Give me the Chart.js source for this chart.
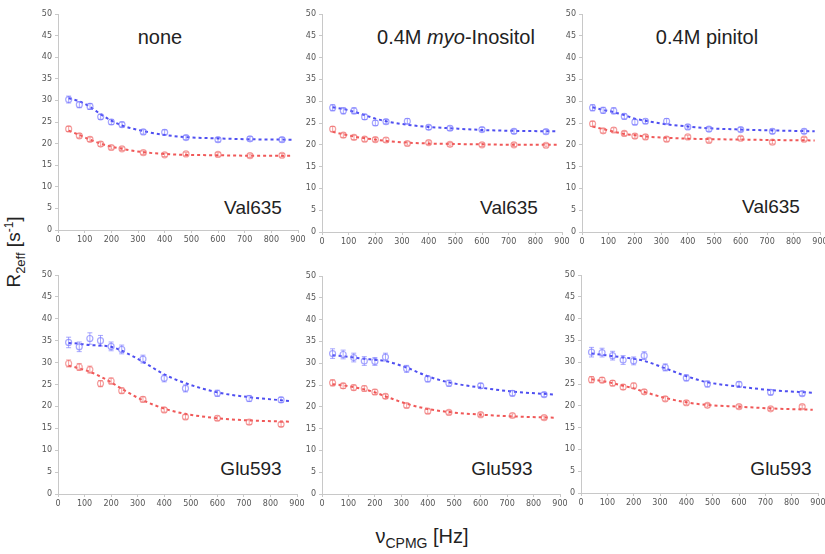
<!DOCTYPE html>
<html><head><meta charset="utf-8">
<script src="https://cdn.jsdelivr.net/npm/chart.js@4.4.1/dist/chart.umd.min.js"></script>
<style>
body{margin:0;background:#fff;}
#wrap{position:relative;width:825px;height:554px;overflow:hidden;font-family:"Liberation Sans",Arial,sans-serif;background:#fff;}
canvas{position:absolute;}
.t{position:absolute;color:#222;white-space:nowrap;transform:translate(-50%,-50%);line-height:1;}
</style></head><body>
<div id="wrap">
<div class="t" style="left:160px;top:37px;font-size:20px;">none</div>
<div class="t" style="left:456px;top:37px;font-size:20px;">0.4M <i>myo</i>-Inositol</div>
<div class="t" style="left:707px;top:37px;font-size:20px;">0.4M pinitol</div>
<div class="t" style="left:253px;top:207px;font-size:19px;">Val635</div>
<div class="t" style="left:509px;top:207px;font-size:19px;">Val635</div>
<div class="t" style="left:771px;top:206px;font-size:19px;">Val635</div>
<div class="t" style="left:251px;top:468px;font-size:19px;">Glu593</div>
<div class="t" style="left:502px;top:468px;font-size:19px;">Glu593</div>
<div class="t" style="left:781px;top:468px;font-size:19px;">Glu593</div>
<div class="t" style="left:15px;top:252px;font-size:19px;transform:translate(-50%,-50%) rotate(-90deg);">R<sub style="font-size:13px;">2eff</sub> [s<sup style="font-size:12px;">-1</sup>]</div>
<div class="t" style="left:422px;top:538px;font-size:20px;">ν<sub style="font-size:14px;">CPMG</sub> [Hz]</div>
</div>
<script>
// ---- data ----
const nuCPMG = [40, 80, 120, 160, 200, 240, 320, 400, 480, 600, 720, 840];
const fitNu  = [40, 80, 120, 160, 200, 240, 320, 400, 480, 600, 720, 880];
const xTicks = [0, 100, 200, 300, 400, 500, 600, 700, 800, 900];
const yTicks = [0, 5, 10, 15, 20, 25, 30, 35, 40, 45, 50];

// Val635, none
const val635None_blue    = [30.2, 29.0, 28.6, 26.2, 25.0, 24.4, 22.7, 22.6, 21.4, 20.9, 21.1, 20.9];
const val635None_blueErr = [0.8, 0.7, 0.7, 0.6, 0.6, 0.6, 0.5, 0.6, 0.5, 0.5, 0.5, 0.5];
const val635None_red     = [23.4, 21.8, 21.0, 19.9, 19.1, 18.8, 17.9, 17.4, 17.6, 17.5, 17.2, 17.3];
const val635None_redErr  = [0.6, 0.5, 0.5, 0.5, 0.4, 0.4, 0.4, 0.4, 0.4, 0.4, 0.4, 0.4];
const val635None_blueFit = [30.5, 29.8, 28.5, 26.8, 25.3, 24.2, 22.9, 22.0, 21.5, 21.2, 21.0, 20.9];
const val635None_redFit  = [23.0, 22.0, 20.9, 20.0, 19.3, 18.8, 18.0, 17.6, 17.4, 17.3, 17.2, 17.2];

// Val635, myo-Inositol
const val635Myo_blue    = [28.5, 27.8, 27.8, 26.4, 25.0, 25.3, 25.4, 24.0, 23.8, 23.5, 23.1, 23.0];
const val635Myo_blueErr = [0.7, 0.7, 0.7, 0.6, 0.6, 0.5, 0.6, 0.5, 0.5, 0.5, 0.5, 0.5];
const val635Myo_red     = [23.6, 22.2, 21.7, 21.3, 21.2, 21.1, 20.3, 20.5, 20.1, 20.0, 20.0, 19.9];
const val635Myo_redErr  = [0.6, 0.5, 0.5, 0.5, 0.5, 0.5, 0.4, 0.4, 0.4, 0.4, 0.4, 0.4];
const val635Myo_blueFit = [28.6, 28.2, 27.6, 26.8, 26.0, 25.4, 24.6, 24.1, 23.8, 23.4, 23.2, 23.1];
const val635Myo_redFit  = [23.0, 22.4, 21.9, 21.5, 21.2, 20.9, 20.5, 20.3, 20.2, 20.1, 20.0, 20.0];

// Val635, pinitol
const val635Pin_blue    = [28.5, 27.9, 27.8, 26.5, 25.2, 25.4, 25.4, 24.1, 23.6, 23.5, 23.1, 23.1];
const val635Pin_blueErr = [0.7, 0.7, 0.7, 0.6, 0.6, 0.5, 0.6, 0.5, 0.5, 0.5, 0.5, 0.5];
const val635Pin_red     = [24.8, 23.2, 23.4, 22.6, 22.0, 21.8, 21.3, 21.8, 21.0, 21.5, 20.6, 21.3];
const val635Pin_redErr  = [0.6, 0.5, 0.5, 0.5, 0.5, 0.5, 0.5, 0.4, 0.4, 0.4, 0.4, 0.4];
const val635Pin_blueFit = [28.6, 28.0, 27.5, 26.8, 26.0, 25.5, 24.7, 24.2, 23.8, 23.5, 23.3, 23.1];
const val635Pin_redFit  = [24.2, 23.6, 23.0, 22.5, 22.2, 21.9, 21.6, 21.4, 21.3, 21.2, 21.1, 21.0];

// Glu593, none
const glu593None_blue    = [34.6, 33.6, 35.5, 35.0, 33.7, 33.0, 30.8, 26.4, 24.1, 23.0, 21.8, 21.5];
const glu593None_blueErr = [1.2, 1.1, 1.3, 1.2, 1.0, 1.0, 0.9, 0.8, 0.8, 0.7, 0.7, 0.6];
const glu593None_red     = [29.8, 29.0, 28.4, 25.2, 25.8, 23.6, 21.6, 19.2, 17.6, 17.3, 16.4, 15.9];
const glu593None_redErr  = [0.8, 0.8, 0.8, 0.7, 0.7, 0.6, 0.6, 0.5, 0.5, 0.5, 0.5, 0.5];
const glu593None_blueFit = [34.5, 34.3, 34.0, 33.9, 33.6, 32.7, 30.2, 27.3, 25.3, 23.2, 22.1, 21.2];
const glu593None_redFit  = [29.3, 28.7, 27.9, 26.8, 25.5, 24.0, 21.4, 19.5, 18.3, 17.3, 16.8, 16.5];

// Glu593, myo-Inositol
const glu593Myo_blue    = [32.2, 32.0, 31.3, 30.5, 30.4, 31.4, 28.7, 26.4, 25.4, 24.8, 23.1, 22.8];
const glu593Myo_blueErr = [1.1, 1.0, 1.0, 1.0, 0.9, 0.9, 0.8, 0.7, 0.7, 0.6, 0.6, 0.5];
const glu593Myo_red     = [25.5, 24.8, 24.4, 24.2, 23.4, 22.4, 20.3, 19.0, 18.7, 18.2, 18.0, 17.5];
const glu593Myo_redErr  = [0.7, 0.6, 0.6, 0.6, 0.6, 0.5, 0.5, 0.5, 0.4, 0.4, 0.4, 0.4];
const glu593Myo_blueFit = [31.8, 31.6, 31.3, 31.0, 30.8, 30.5, 29.0, 27.0, 25.6, 24.4, 23.5, 22.8];
const glu593Myo_redFit  = [25.2, 24.9, 24.5, 24.0, 23.3, 22.4, 20.7, 19.5, 18.8, 18.2, 17.8, 17.5];

// Glu593, pinitol
const glu593Pin_blue    = [32.3, 32.2, 31.5, 30.5, 30.3, 31.5, 28.8, 26.4, 25.0, 24.9, 23.1, 22.8];
const glu593Pin_blueErr = [1.1, 1.0, 1.0, 1.0, 0.9, 0.9, 0.8, 0.7, 0.7, 0.6, 0.6, 0.5];
const glu593Pin_red     = [26.0, 25.9, 25.2, 24.3, 24.6, 23.2, 21.6, 20.7, 20.1, 19.8, 19.3, 19.8];
const glu593Pin_redErr  = [0.7, 0.6, 0.6, 0.6, 0.6, 0.5, 0.5, 0.5, 0.4, 0.4, 0.4, 0.4];
const glu593Pin_blueFit = [32.0, 31.7, 31.4, 31.1, 30.8, 30.3, 28.6, 26.8, 25.4, 24.4, 23.6, 23.0];
const glu593Pin_redFit  = [26.1, 25.7, 25.2, 24.6, 24.0, 23.2, 21.8, 20.8, 20.2, 19.8, 19.4, 19.1];

// ---- panels (data refs) ----
const panelData = [
  [val635None_blue, val635None_blueErr, val635None_red, val635None_redErr, val635None_blueFit, val635None_redFit],
  [val635Myo_blue, val635Myo_blueErr, val635Myo_red, val635Myo_redErr, val635Myo_blueFit, val635Myo_redFit],
  [val635Pin_blue, val635Pin_blueErr, val635Pin_red, val635Pin_redErr, val635Pin_blueFit, val635Pin_redFit],
  [glu593None_blue, glu593None_blueErr, glu593None_red, glu593None_redErr, glu593None_blueFit, glu593None_redFit],
  [glu593Myo_blue, glu593Myo_blueErr, glu593Myo_red, glu593Myo_redErr, glu593Myo_blueFit, glu593Myo_redFit],
  [glu593Pin_blue, glu593Pin_blueErr, glu593Pin_red, glu593Pin_redErr, glu593Pin_blueFit, glu593Pin_redFit]
];
// chart-area boxes (layout only)
const panelBoxes = [
  {l: 58, r: 298, t: 14, b: 230},
  {l: 322, r: 562, t: 14, b: 232},
  {l: 582, r: 820, t: 14, b: 232},
  {l: 58, r: 297, t: 275, b: 494},
  {l: 322, r: 560, t: 276, b: 494},
  {l: 581, r: 818, t: 275, b: 493}
];

const BLUE_PT = 'rgba(120,120,255,0.65)';
const RED_PT = 'rgba(240,110,110,0.65)';
const BLUE_LINE = 'rgba(60,60,240,0.9)';
const RED_LINE = 'rgba(238,70,70,0.9)';

const errorBars = {
  id: 'errorBars',
  beforeDatasetsDraw(chart) {
    const ctx = chart.ctx, xs = chart.scales.x, ys = chart.scales.y;
    chart.data.datasets.forEach(ds => {
      if (!ds.errors) return;
      ctx.save();
      ctx.strokeStyle = ds.borderColor;
      ctx.lineWidth = 1;
      ds.data.forEach((p, i) => {
        const e = ds.errors[i];
        const x = xs.getPixelForValue(p.x);
        const y1 = ys.getPixelForValue(p.y - e), y2 = ys.getPixelForValue(p.y + e);
        ctx.beginPath();
        ctx.moveTo(x, y1); ctx.lineTo(x, y2);
        ctx.moveTo(x - 2.5, y1); ctx.lineTo(x + 2.5, y1);
        ctx.moveTo(x - 2.5, y2); ctx.lineTo(x + 2.5, y2);
        ctx.stroke();
      });
      ctx.restore();
    });
  }
};

const YW = 30, XH = 20, PT = 10, PR = 14;
const wrap = document.getElementById('wrap');
panelData.forEach((pd, k) => {
  const box = panelBoxes[k];
  const cv = document.createElement('canvas');
  const w = (box.r - box.l) + YW + PR, h = (box.b - box.t) + PT + XH;
  cv.width = w; cv.height = h;
  cv.style.left = (box.l - YW) + 'px';
  cv.style.top = (box.t - PT) + 'px';
  cv.style.width = w + 'px'; cv.style.height = h + 'px';
  wrap.appendChild(cv);
  const [bl, ble, rd, rde, bf, rf] = pd;
  const pts = arr => nuCPMG.map((x, i) => ({x, y: arr[i]}));
  const fit = arr => fitNu.map((x, i) => ({x, y: arr[i]}));
  new Chart(cv, {
    type: 'scatter',
    data: {
      datasets: [
        {label: 'fit blue', data: fit(bf), showLine: true, borderColor: BLUE_LINE, borderWidth: 2, borderDash: [3, 3], pointRadius: 0, cubicInterpolationMode: 'monotone', order: 2},
        {label: 'fit red', data: fit(rf), showLine: true, borderColor: RED_LINE, borderWidth: 2, borderDash: [3, 3], pointRadius: 0, cubicInterpolationMode: 'monotone', order: 2},
        {label: 'blue', data: pts(bl), errors: ble, borderColor: BLUE_PT, backgroundColor: 'rgba(0,0,0,0)', pointRadius: 3, borderWidth: 1.2, order: 1},
        {label: 'red', data: pts(rd), errors: rde, borderColor: RED_PT, backgroundColor: 'rgba(0,0,0,0)', pointRadius: 3, borderWidth: 1.2, order: 1}
      ]
    },
    options: {
      responsive: false, animation: false, devicePixelRatio: 1,
      layout: {padding: {top: PT, right: PR, left: 0, bottom: 0}},
      plugins: {legend: {display: false}, tooltip: {enabled: false}},
      scales: {
        x: {
          type: 'linear', min: 0, max: 900,
          afterFit: s => { s.height = XH; },
          afterBuildTicks: s => { s.ticks = xTicks.map(v => ({value: v})); },
          grid: {drawOnChartArea: false, tickLength: 3, color: '#c8c8c8'},
          border: {display: true, color: '#c8c8c8'},
          ticks: {color: '#555', font: {family: 'DejaVu Sans', size: 8}, padding: 2, maxRotation: 0, autoSkip: false}
        },
        y: {
          type: 'linear', min: 0, max: 50,
          afterFit: s => { s.width = YW; },
          afterBuildTicks: s => { s.ticks = yTicks.map(v => ({value: v})); },
          grid: {drawOnChartArea: false, tickLength: 3, color: '#c8c8c8'},
          border: {display: true, color: '#c8c8c8'},
          ticks: {color: '#555', font: {family: 'DejaVu Sans', size: 8}, padding: 3, autoSkip: false}
        }
      }
    },
    plugins: [errorBars]
  });
});
</script>
</body></html>
